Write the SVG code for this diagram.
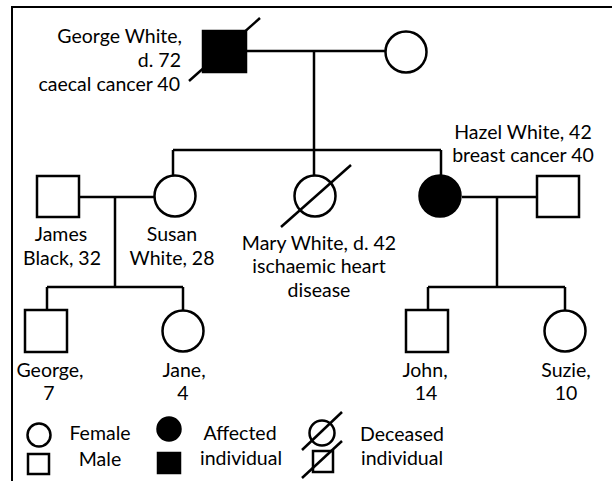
<svg xmlns="http://www.w3.org/2000/svg" width="612" height="482" viewBox="0 0 612 482">
<style>
text{font-family:Lato,"Noto Sans","DejaVu Sans",sans-serif;font-size:19.5px;fill:#000}
.m{text-anchor:middle}
.e{text-anchor:end}
.s{fill:#fff;stroke:#000;stroke-width:2.5}
.a{fill:#000;stroke:#000;stroke-width:2.5}
line,polyline{stroke:#000;stroke-width:2.5;fill:none}
</style>
<rect width="612" height="482" fill="#fff"/>
<polyline points="12,481 12,7 612,7" style="stroke-width:2"/>
<g id="connectors">
<line x1="247" y1="51" x2="385" y2="51"/>
<line x1="314" y1="51" x2="314" y2="150"/>
<line x1="173" y1="150" x2="441" y2="150"/>
<line x1="173" y1="150" x2="173" y2="175"/>
<line x1="314" y1="150" x2="314" y2="175"/>
<line x1="441" y1="150" x2="441" y2="175"/>
<line x1="80" y1="197" x2="154" y2="197"/>
<line x1="115" y1="197" x2="115" y2="287"/>
<line x1="47" y1="287" x2="183" y2="287"/>
<line x1="47" y1="287" x2="47" y2="310"/>
<line x1="183" y1="287" x2="183" y2="310"/>
<line x1="462" y1="197" x2="536" y2="197"/>
<line x1="497" y1="197" x2="497" y2="287"/>
<line x1="428" y1="287" x2="565" y2="287"/>
<line x1="428" y1="287" x2="428" y2="310"/>
<line x1="565" y1="287" x2="565" y2="310"/>
</g>
<g id="george-white">
<rect class="a" x="203" y="31" width="43" height="41"/>
<line x1="189" y1="81" x2="260" y2="18"/>
<text class="e" x="182" y="43">George White,</text>
<text class="e" x="181" y="67">d. 72</text>
<text class="e" x="180" y="91">caecal cancer 40</text>
</g>
<g id="george-wife">
<circle class="s" cx="406" cy="52" r="20.5"/>
</g>
<g id="james-black">
<rect class="s" x="37" y="176" width="42" height="41"/>
<text class="m" x="61" y="241">James</text>
<text class="m" x="62" y="265">Black, 32</text>
</g>
<g id="susan-white">
<circle class="s" cx="175" cy="196" r="20.5"/>
<text class="m" x="172" y="241">Susan</text>
<text class="m" x="172" y="265">White, 28</text>
</g>
<g id="mary-white">
<circle class="s" cx="315" cy="196" r="20.5"/>
<line x1="281" y1="227" x2="351" y2="165"/>
<text class="m" x="319" y="250">Mary White, d. 42</text>
<text class="m" x="319" y="273">ischaemic heart</text>
<text class="m" x="319" y="297">disease</text>
</g>
<g id="hazel-white">
<circle class="a" cx="440" cy="196" r="20.5"/>
<text class="m" x="523" y="139">Hazel White, 42</text>
<text class="m" x="523" y="162">breast cancer 40</text>
</g>
<g id="hazel-husband">
<rect class="s" x="537" y="176" width="42" height="41"/>
</g>
<g id="george-7">
<rect class="s" x="25" y="310" width="42" height="42"/>
<text class="m" x="50" y="377">George,</text>
<text class="m" x="49" y="400">7</text>
</g>
<g id="jane-4">
<circle class="s" cx="183" cy="331" r="20.5"/>
<text class="m" x="184" y="377">Jane,</text>
<text class="m" x="183" y="400">4</text>
</g>
<g id="john-14">
<rect class="s" x="406" y="310" width="42" height="42"/>
<text class="m" x="425" y="377">John,</text>
<text class="m" x="426" y="400">14</text>
</g>
<g id="suzie-10">
<circle class="s" cx="565" cy="331" r="20.5"/>
<text class="m" x="566" y="377">Suzie,</text>
<text class="m" x="566" y="400">10</text>
</g>
<g id="legend">
<circle class="s" cx="39" cy="435" r="11.5"/>
<text class="m" x="100" y="440">Female</text>
<rect class="s" x="28" y="454" width="21" height="20"/>
<text class="m" x="100" y="466">Male</text>
<circle class="a" cx="169" cy="429" r="11.5"/>
<rect class="a" x="158" y="453" width="22" height="20"/>
<text class="m" x="240" y="440">Affected</text>
<text class="m" x="241" y="465">individual</text>
<circle class="s" cx="322" cy="433" r="12.5"/>
<line x1="302" y1="450" x2="342" y2="412"/>
<rect class="s" x="313" y="451" width="20" height="21"/>
<line x1="302" y1="478" x2="342" y2="441"/>
<text class="m" x="402" y="441">Deceased</text>
<text class="m" x="402" y="465">individual</text>
</g>
</svg>
